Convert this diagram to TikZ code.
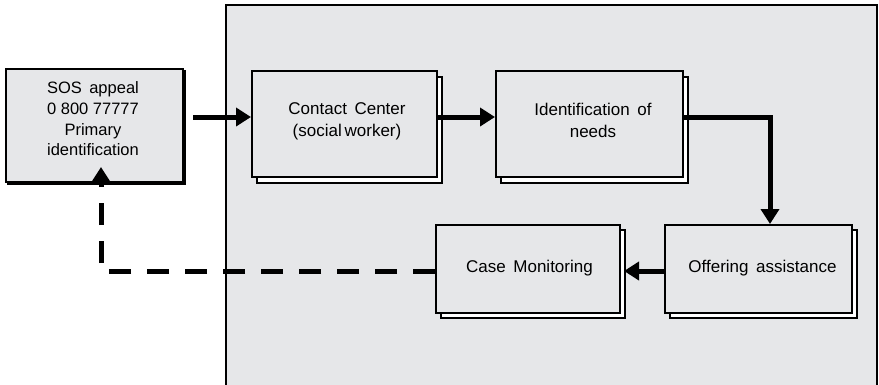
\documentclass[tikz,border=0pt]{standalone}
\usepackage{fontspec}
\setmainfont{Liberation Sans}
\usetikzlibrary{arrows.meta,calc}
\definecolor{panel}{HTML}{E6E7E9}
\tikzset{
  box/.style={draw=black, line width=2pt, fill=panel, inner sep=0pt},
  shadowbox/.style={draw=black, line width=1.6pt, fill=white, inner sep=0pt},
  lbl/.style={align=center, inner sep=0pt, font=\fontsize{17}{22}\selectfont},
  flow/.style={line width=5pt, -{Triangle[length=15pt,width=18pt]}},
  back/.style={flow, dash pattern=on 22pt off 16pt}
}
\begin{document}
\begin{tikzpicture}[x=1pt,y=-1pt]
\useasboundingbox (0,0) rectangle (879,384);
% panel
\fill[panel] (226,5) rectangle (877,390);
\draw[line width=2pt] (226,390) -- (226,5) -- (877,5) -- (877,390);
% SOS box
\node[box, minimum width=177pt, minimum height=113pt, fill=black] (sossh) at (96.5,127.5) {};
\node[box, minimum width=177pt, minimum height=113pt] (sos) at (94.5,125.5) {};
\node[lbl, font=\fontsize{16.5}{20.7}\selectfont] (sost) at (93,119) {SOS\, appeal\\0 800 77777\\Primary\\identification};
% shadows
\node[shadowbox, minimum width=185pt, minimum height=106pt] (contactsh) at (349.5,130) {};
\node[shadowbox, minimum width=187pt, minimum height=106pt] (identsh) at (594.5,130) {};
\node[shadowbox, minimum width=187pt, minimum height=88pt] (offersh) at (763.5,274) {};
\node[shadowbox, minimum width=184pt, minimum height=88pt] (casesh) at (533,274) {};
% boxes
\node[box, minimum width=185pt, minimum height=106pt] (contact) at (344.5,124) {};
\node[box, minimum width=187pt, minimum height=106pt] (ident) at (589.5,124) {};
\node[box, minimum width=187pt, minimum height=88pt] (offer) at (758.5,269) {};
\node[box, minimum width=184pt, minimum height=88pt] (case) at (528,269) {};
% labels
\node[lbl] (contactt) at (347,121) {Contact\, Center\\(social\,worker)};
\node[lbl] (identt) at (593,120) {Identification\, of\\needs};
\node[lbl] (offert) at (762.5,268) {Offering\, assistance};
\node[lbl] (caset) at (529.5,268) {Case\, Monitoring};
% connectors
\coordinate (a1) at ([xshift=9pt,yshift=8.5pt]sos.east);
\draw[flow] (a1) -- ([yshift=7pt]contact.west);
\draw[flow] ([yshift=7pt]contact.east) -- ([yshift=7pt]ident.west);
\draw[flow] ([yshift=7pt]ident.east) -| ([xshift=11.5pt]offer.north);
\draw[flow] ([yshift=-2pt]offer.west) -- ([xshift=3pt,yshift=-2pt]case.east);
\coordinate (turn) at (101,271);
\coordinate (tip) at (101,167);
\draw[back] ([yshift=-2pt]case.west) -- (turn) -- (tip);
\end{tikzpicture}
\end{document}
